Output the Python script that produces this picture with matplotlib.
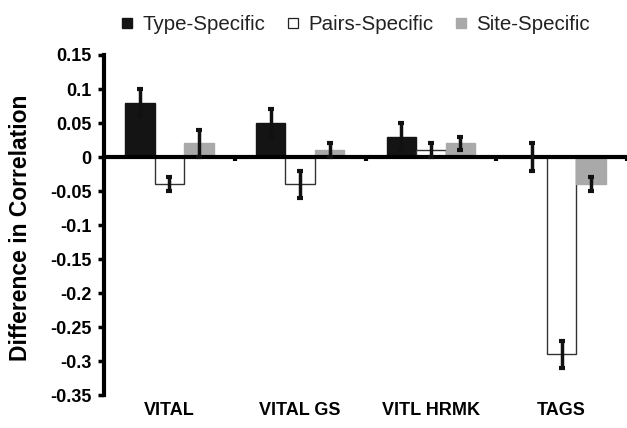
import matplotlib
matplotlib.use("Agg")
import matplotlib.pyplot as plt
from matplotlib.lines import Line2D
import numpy as np

plt.rcParams['font.family'] = ['Liberation Sans', 'DejaVu Sans']

# data
categories = ['VITAL', 'VITAL GS', 'VITL HRMK', 'TAGS']
series = ['Type-Specific', 'Pairs-Specific', 'Site-Specific']
type_vals = [0.08, 0.05, 0.03, 0.0]
type_err = [0.02, 0.02, 0.02, 0.02]
pairs_vals = [-0.04, -0.04, 0.01, -0.29]
pairs_err = [0.01, 0.02, 0.01, 0.02]
site_vals = [0.02, 0.01, 0.02, -0.04]
site_err = [0.02, 0.01, 0.01, 0.01]
yticks = [0.15, 0.1, 0.05, 0, -0.05, -0.1, -0.15, -0.2, -0.25, -0.3, -0.35]
ytick_labels = ['0.15', '0.1', '0.05', '0', '-0.05', '-0.1', '-0.15', '-0.2', '-0.25', '-0.3', '-0.35']

fig = plt.figure(figsize=(6.27, 4.28), dpi=100)
ax = fig.add_axes([0.166, 0.077, 0.834, 0.7945])

x = np.arange(len(categories))
w = 0.225
styles = [
    dict(color='#141414', edgecolor='#141414'),
    dict(color='white', edgecolor='#333333', linewidth=1.0),
    dict(color='#a9a9a9', edgecolor='#a9a9a9'),
]
for i, (vals, errs) in enumerate([(type_vals, type_err), (pairs_vals, pairs_err), (site_vals, site_err)]):
    xs = x + (i - 1) * w
    ax.bar(xs, vals, w, zorder=2, **styles[i])
    ax.errorbar(xs, vals, yerr=errs, fmt='none', ecolor='#111111', elinewidth=2.5,
                capsize=2, capthick=3, zorder=4)

ax.axhline(0, color='black', lw=3, zorder=3)
# small tick marks between categories, below the zero line
for b in [0.5, 1.5, 2.5, 3.5]:
    ax.plot([b, b], [0, -0.006], color='black', lw=3, solid_capstyle='butt', zorder=3, clip_on=False)

ax.set_xlim(-0.5, 3.5)
ax.set_ylim(-0.35, 0.15)
ax.set_yticks(yticks)
ax.set_yticklabels(ytick_labels, fontsize=13, fontweight='bold')
ax.tick_params(axis='y', direction='out', length=4, width=2.5, pad=5)
ax.set_xticks(x)
ax.set_xticklabels(categories, fontsize=13, fontweight='bold')
ax.tick_params(axis='x', length=0, pad=5)

for s in ['top', 'right', 'bottom']:
    ax.spines[s].set_visible(False)
ax.spines['left'].set_linewidth(3)

ax.set_ylabel('Difference in Correlation', fontsize=16.5, fontweight='bold')
ax.yaxis.set_label_coords(-0.138, 0.493)

handles = [
    Line2D([], [], marker='s', ls='none', markersize=7, markerfacecolor='#141414', markeredgecolor='#141414'),
    Line2D([], [], marker='s', ls='none', markersize=7, markerfacecolor='white', markeredgecolor='#222222', markeredgewidth=0.9),
    Line2D([], [], marker='s', ls='none', markersize=7, markerfacecolor='#a9a9a9', markeredgecolor='#a9a9a9'),
]
leg = fig.legend(handles, series, loc='center', bbox_to_anchor=(0.565, 0.942), ncol=3,
                 frameon=False, fontsize=14.8, handlelength=0.8, handletextpad=0.35,
                 columnspacing=0.93, borderpad=0, borderaxespad=0)
for t in leg.get_texts():
    t.set_color('#222222')

fig.savefig('out.png', dpi=100)
